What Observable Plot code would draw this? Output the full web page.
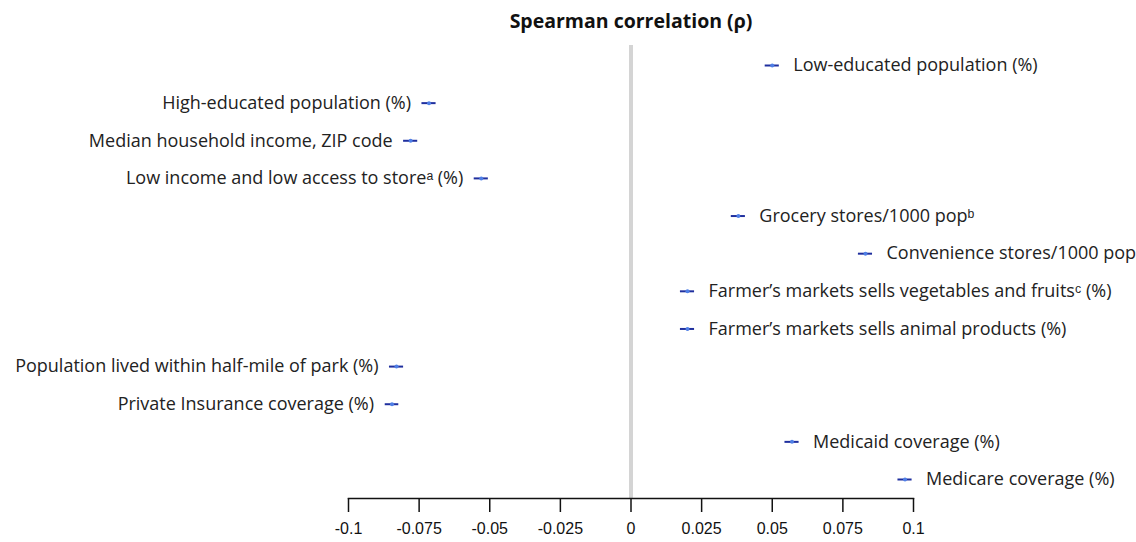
<!DOCTYPE html>
<html>
<head>
<meta charset="utf-8">
<script src="https://cdn.jsdelivr.net/npm/d3@7"></script>
<script src="https://cdn.jsdelivr.net/npm/@observablehq/plot@0.6"></script>
<style>
  body { margin: 0; background: #fff; }
  #title { width: 1136px; height: 40px; position: relative; }
  #title span { position: absolute; left: 631px; top: 8px; transform: translateX(-50%);
    font-family: "Open Sans", sans-serif; font-weight: bold; font-size: 19.5px; line-height: 26px; color: #111; white-space: nowrap; }
</style>
</head>
<body>
<div id="title"><span>Spearman correlation (ρ)</span></div>
<div id="chart"></div>
<script>
const labels = [
  "Low-educated population (%)",
  "High-educated population (%)",
  "Median household income, ZIP code",
  "Low income and low access to storeᵃ (%)",
  "Grocery stores/1000 popᵇ",
  "Convenience stores/1000 pop",
  "Farmer’s markets sells vegetables and fruitsᶜ (%)",
  "Farmer’s markets sells animal products (%)",
  "Population lived within half-mile of park (%)",
  "Private Insurance coverage (%)",
  "Medicaid coverage (%)",
  "Medicare coverage (%)"
];
const rho = [0.050, -0.0715, -0.078, -0.053, 0.038, 0.083, 0.020, 0.020, -0.083, -0.0846, 0.057, 0.097];
const ciLow = [0.0475, -0.074, -0.0805, -0.0555, 0.0355, 0.0805, 0.0175, 0.0175, -0.0855, -0.087, 0.0545, 0.0945];
const ciHigh = [0.0525, -0.069, -0.0755, -0.0505, 0.0405, 0.0855, 0.0225, 0.0225, -0.0805, -0.0822, 0.0595, 0.0995];
const xTicks = [-0.1, -0.075, -0.05, -0.025, 0, 0.025, 0.05, 0.075, 0.1];

const data = labels.map((label, i) => ({label, rho: rho[i], lo: ciLow[i], hi: ciHigh[i]}));

const chart = Plot.plot({
  width: 1136,
  height: 502,
  marginLeft: 348,
  marginRight: 223,
  marginTop: 5,
  marginBottom: 44,
  style: {fontFamily: "'Liberation Sans', Arial, sans-serif", fontSize: "16px", color: "#111", background: "#fff"},
  x: {domain: [-0.1, 0.1]},
  y: {type: "point", domain: labels, range: [25, 439], padding: 0, round: false, axis: null},
  marks: [
    Plot.ruleX([0], {stroke: "#d4d4d4", strokeWidth: 4}),
    Plot.axisX({ticks: xTicks, tickFormat: d => String(d), tickSize: 14, tickPadding: 10, strokeWidth: 1.5, stroke: "#111", label: null, fontSize: 16}),
    Plot.frame({anchor: "bottom", stroke: "#111", strokeWidth: 1.5}),
    Plot.ruleY(data, {y: "label", x1: "lo", x2: "hi", stroke: "#1f2f9e", strokeWidth: 2}),
    Plot.dot(data, {x: "rho", y: "label", r: 2, fill: "#4f7fe6", stroke: null}),
    Plot.text(data.filter(d => d.rho >= 0), {x: "rho", y: "label", text: "label", textAnchor: "start", dx: 21,
      fontFamily: "'Open Sans', sans-serif", fontSize: 18, fill: "#222"}),
    Plot.text(data.filter(d => d.rho < 0), {x: "rho", y: "label", text: "label", textAnchor: "end", dx: -18,
      fontFamily: "'Open Sans', sans-serif", fontSize: 18, fill: "#222"})
  ]
});
document.getElementById("chart").appendChild(chart);
</script>
</body>
</html>
